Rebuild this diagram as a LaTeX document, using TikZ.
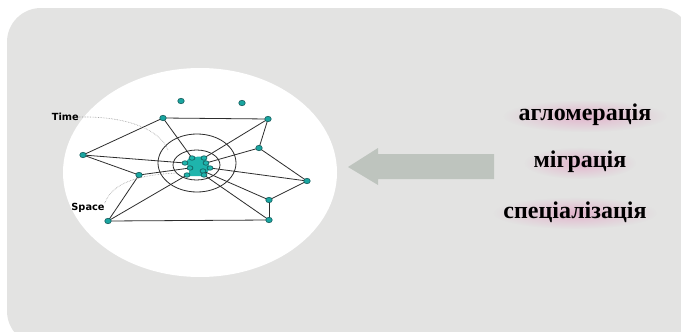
\documentclass[tikz,border=0pt]{standalone}
\usepackage{fontspec}
\usetikzlibrary{shapes.geometric,fadings}
\setmainfont{Liberation Serif}
\newfontfamily\labfont{DejaVu Sans}
\definecolor{panelgray}{RGB}{227,227,226}
\definecolor{netline}{RGB}{45,45,45}
\definecolor{dotline}{RGB}{20,90,90}
\definecolor{blobteal}{RGB}{30,180,172}
\definecolor{dotteal}{RGB}{25,165,160}
\definecolor{guidegray}{RGB}{150,150,150}
\definecolor{glowpink}{RGB}{225,160,195}
\definecolor{arrowgray}{RGB}{190,196,190}
\tikzfading[name=fuzzy halo, inner color=transparent!0, outer color=transparent!100]
\begin{document}
\begin{tikzpicture}[x=1pt,y=-1pt,
  panel/.style={fill=panelgray,draw=none},
  net/.style={draw=netline,line width=0.8pt},
  ring/.style={draw=netline,line width=0.8pt},
  dot/.style={ellipse,fill=dotteal,draw=dotline,line width=0.6pt,inner sep=0pt,minimum width=6.5pt,minimum height=5.5pt},
  cdot/.style={ellipse,fill=blobteal,draw=dotline,line width=0.6pt,inner sep=0pt,minimum width=6pt,minimum height=4.5pt},
  guide/.style={draw=guidegray,line width=0.6pt,densely dotted},
  lab/.style={font=\labfont\bfseries\fontsize{9.8}{10}\selectfont,text=black,inner sep=0pt},
  word/.style={font=\bfseries\fontsize{24}{26}\selectfont,inner sep=0pt},
  halo/.style={fill=glowpink,path fading=fuzzy halo,opacity=0.7},
  blockarrow/.style={fill=arrowgray,draw=none}
]
\useasboundingbox (0,0) rectangle (681,332);
\clip (0,0) rectangle (681,332);
\fill[white] (0,0) rectangle (681,332);
% panel
\path[panel,rounded corners=34pt] (7,8) rectangle (692,345);
% white ellipse
\fill[white] (200,172.5) ellipse [x radius=137, y radius=104.5];
% rings
\draw[ring] (197,163) ellipse [x radius=39, y radius=29];
\draw[ring] (196.5,165) ellipse [x radius=23.5, y radius=15];
% central blob
\fill[blobteal] (190,157) -- (204,156.5) -- (207,162) -- (210,168) -- (205,176) -- (188,176) -- (190,168) -- (185,163) -- cycle;
% cluster dot positions
\coordinate (c1) at (192,158);
\coordinate (c2) at (204,158);
\coordinate (c3) at (185,163);
\coordinate (c4) at (206,163);
\coordinate (c5) at (190,168);
\coordinate (c6) at (210,168);
\coordinate (c7) at (203,171);
\coordinate (c8) at (187,175);
\coordinate (c9) at (204,175);
% outer node positions
\coordinate (A) at (163,118);
\coordinate (B) at (268,119);
\coordinate (C) at (83,155);
\coordinate (D) at (259,148);
\coordinate (E) at (139,175);
\coordinate (F) at (307,181);
\coordinate (G) at (269,200);
\coordinate (H) at (108,221);
\coordinate (I) at (269,220);
% edges
\draw[net] (A) -- (B);
\draw[net] (A) -- (C);
\draw[net] (A) -- (c1);
\draw[net] (B) -- (D);
\draw[net] (B) -- (c2);
\draw[net] (D) -- (c4);
\draw[net] (D) -- (F);
\draw[net] (C) -- (E);
\draw[net] (C) -- (c3);
\draw[net] (E) -- (H);
\draw[net] (E) -- (c5);
\draw[net] (H) -- (c8);
\draw[net] (H) -- (I);
\draw[net] (I) -- (G);
\draw[net] (G) -- (F);
\draw[net] (F) -- (c6);
\draw[net] (G) -- (c7);
\draw[net] (I) -- (c9);
% dots on top
\foreach \n in {c1,c2,c3,c4,c5,c6,c7,c8,c9}
  {\node[cdot] (n\n) at (\n) {};}
\foreach \n in {A,B,C,D,E,F,G,H,I}
  {\node[dot] (n\n) at (\n) {};}
\node[dot] (p1) at (181,101) {};
\node[dot] (p2) at (242,103) {};
% labels and guide curves
\node[lab,anchor=east] (time) at (79,117) {Time};
\node[lab] (space) at (88,208) {Space};
\coordinate (tEnd) at (168,150);
\coordinate (sEnd) at (177,173);
\draw[guide] (time.east) .. controls (128,116) and (160,130) .. (tEnd);
\draw[guide] (space.north east) .. controls (112,184) and (135,175) .. (sEnd);
% block arrow
\path[blockarrow] (348,167) -- (378,148) -- (378,154) -- (494,154) -- (494,179) -- (378,179) -- (378,185) -- cycle;
% soft pink haze behind the words
\path[halo] (585,116) ellipse [x radius=82, y radius=16];
\path[halo] (580,163) ellipse [x radius=56, y radius=16];
\path[halo] (575,213) ellipse [x radius=82, y radius=16];
% words
\node[word] (w1) at (585,115) {агломерація};
\node[word] (w2) at (580,162) {міграція};
\node[word] (w3) at (575,212) {спеціалізація};
\end{tikzpicture}
\end{document}
